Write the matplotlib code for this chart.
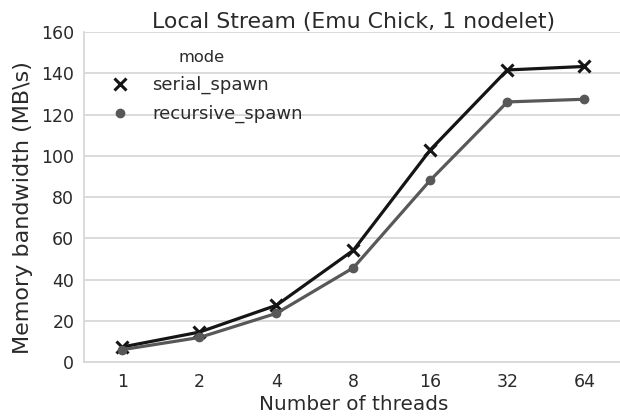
import matplotlib
matplotlib.use("Agg")
import matplotlib.pyplot as plt
from matplotlib.lines import Line2D

threads = ["1", "2", "4", "8", "16", "32", "64"]
serial_spawn = [7.3, 14.5, 27.5, 54.2, 102.9, 141.6, 143.3]
recursive_spawn = [6.0, 11.9, 23.6, 45.7, 88.2, 126.1, 127.4]
series_names = ["serial_spawn", "recursive_spawn"]

plt.rcParams['font.family'] = ['DejaVu Sans']
fig = plt.figure(figsize=(6.2, 4.19), dpi=100)
ax = fig.add_axes([0.1355, 0.136, 0.869, 0.7876])
xs = list(range(len(threads)))
c_ser, c_rec = "#151515", "#585858"
ax.plot(xs, serial_spawn, color=c_ser, lw=2.3, marker="x", ms=9, mew=2.2)
ax.plot(xs, recursive_spawn, color=c_rec, lw=2.3, marker="o", ms=6)
ax.set_xlim(-0.5, len(threads) - 0.5)
ax.set_ylim(0, 160)
ax.set_yticks(range(0, 161, 20))
ax.set_xticks(xs)
ax.set_xticklabels(threads)
ax.grid(axis="y", color="#d8d8d8", lw=1.3)
ax.set_axisbelow(True)
for s in ["top", "right"]:
    ax.spines[s].set_visible(False)
for s in ["left", "bottom"]:
    ax.spines[s].set_color("#d8d8d8")
    ax.spines[s].set_linewidth(1.3)
ax.tick_params(axis="x", length=0, labelsize=12.5, colors="#2a2a2a", pad=8)
ax.tick_params(axis="y", length=0, labelsize=12.5, colors="#2a2a2a", pad=7)
ax.set_xlabel("Number of threads", fontsize=14.4, color="#2a2a2a", labelpad=3)
ax.set_ylabel("Memory bandwidth (MB\\s)", fontsize=16, color="#2a2a2a")
ax.yaxis.set_label_coords(-0.0946, 0.4666)
ax.set_title("Local Stream (Emu Chick, 1 nodelet)", fontsize=15.8, color="#2a2a2a", pad=1)
handles = [Line2D([], [], ls="none", marker="x", ms=8, mew=2.2, color=c_ser),
           Line2D([], [], ls="none", marker="o", ms=6, color=c_rec)]
leg = ax.legend(handles, series_names, title="mode", frameon=False, loc="upper left",
                fontsize=13, title_fontsize=11.7, bbox_to_anchor=(0.019, 0.967),
                borderaxespad=0, handlelength=2.0, handletextpad=0.8, labelspacing=0.6)
leg.get_title().set_color("#2a2a2a")
for t in leg.get_texts():
    t.set_color("#2a2a2a")
fig.savefig("out.png", dpi=100)
